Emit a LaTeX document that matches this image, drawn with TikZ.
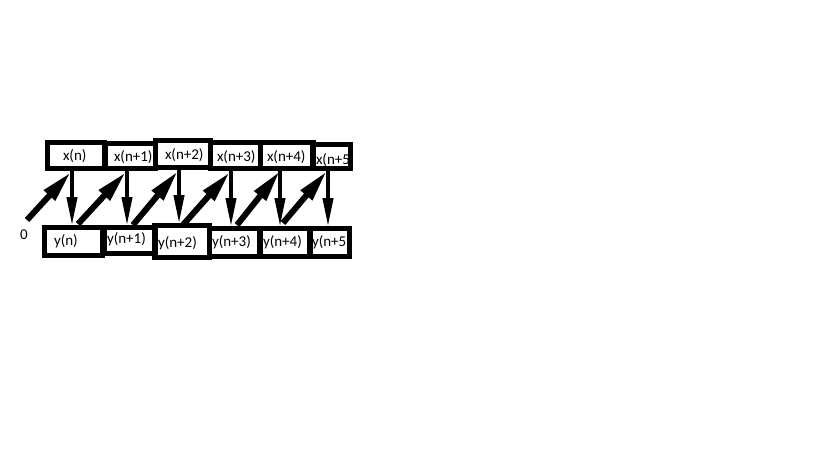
\documentclass[tikz,border=0pt]{standalone}
\usepackage{fontspec}
\setmainfont{Carlito}
\usetikzlibrary{arrows.meta}
\begin{document}
\begin{tikzpicture}[x=1pt,y=-1pt,
  cell/.style={draw=black,line width=5.5pt,inner sep=0pt,outer sep=0pt},
  lbl/.style={anchor=base west,inner sep=0pt,outer sep=0pt,font=\fontsize{15}{16}\selectfont},
  varr/.style={line width=4pt,-{Triangle[length=29pt,width=10pt]}},
  darr/.style={line width=6pt,-{Triangle[length=32pt,width=14pt]}}]
\useasboundingbox (0,0) rectangle (819,460);
% top row boxes
\draw[cell] (47.5,142.5) rectangle (104.5,168.5);
\draw[cell] (105.5,143.5) rectangle (155.5,168.5);
\draw[cell] (155.5,140.5) rectangle (210.5,167.5);
\draw[cell] (210.5,142.5) rectangle (260.5,168.5);
\draw[cell] (260.5,142.5) rectangle (313.5,168.5);
\draw[cell] (312.5,144.5) rectangle (350.5,168.5);
% bottom row boxes
\draw[cell] (44.5,227.5) rectangle (102.5,255.5);
\draw[cell] (104.5,227.5) rectangle (155.5,253.5);
\draw[cell] (154.5,225.5) rectangle (209.5,257.5);
\draw[cell] (209.5,228.5) rectangle (260.5,256.5);
\draw[cell] (259.5,228.5) rectangle (310.5,256.5);
\draw[cell] (309.5,228.5) rectangle (349.5,256.5);
% labels
\node[lbl] (tx0) at (63,160) {x(n)};
\node[lbl] (tx1) at (114,161) {x(n+1)};
\node[lbl] (tx2) at (165,159) {x(n+2)};
\node[lbl] (tx3) at (217,161) {x(n+3)};
\node[lbl] (tx4) at (267,161) {x(n+4)};
\node[lbl] (tx5) at (316,164) {x(n+5};
\node[lbl] (ty0) at (54,245) {y(n)};
\node[lbl] (ty1) at (107,243) {y(n+1)};
\node[lbl] (ty2) at (158,247) {y(n+2)};
\node[lbl] (ty3) at (212,246) {y(n+3)};
\node[lbl] (ty4) at (263,246) {y(n+4)};
\node[lbl] (ty5) at (312,246) {y(n+5};
\node[lbl] (zero) at (20,239) {0};
% arrow end points
\coordinate (xb0) at (72,168);  \coordinate (yt0) at (72,226);
\coordinate (xb1) at (127,168); \coordinate (yt1) at (127,226);
\coordinate (xb2) at (179,167); \coordinate (yt2) at (179,224);
\coordinate (xb3) at (231,168); \coordinate (yt3) at (231,227);
\coordinate (xb4) at (280,168); \coordinate (yt4) at (280,227);
\coordinate (xb5) at (328,168); \coordinate (yt5) at (328,227);
\coordinate (s0) at (27,220);
\coordinate (s1) at (78,224);
\coordinate (s2) at (133,225);
\coordinate (s3) at (182,226);
\coordinate (s4) at (237,225);
\coordinate (s5) at (283,223);
\coordinate (e0) at (71,172);
\coordinate (e1) at (126,172);
\coordinate (e2) at (178,171);
\coordinate (e3) at (230,172);
\coordinate (e4) at (280,171);
\coordinate (e5) at (327,171);
% vertical arrows
\foreach \i in {0,...,5} {\draw[varr] (xb\i) -- (yt\i);}
% diagonal arrows
\foreach \i in {0,...,5} {\draw[darr] (s\i) -- (e\i);}
\end{tikzpicture}
\end{document}
